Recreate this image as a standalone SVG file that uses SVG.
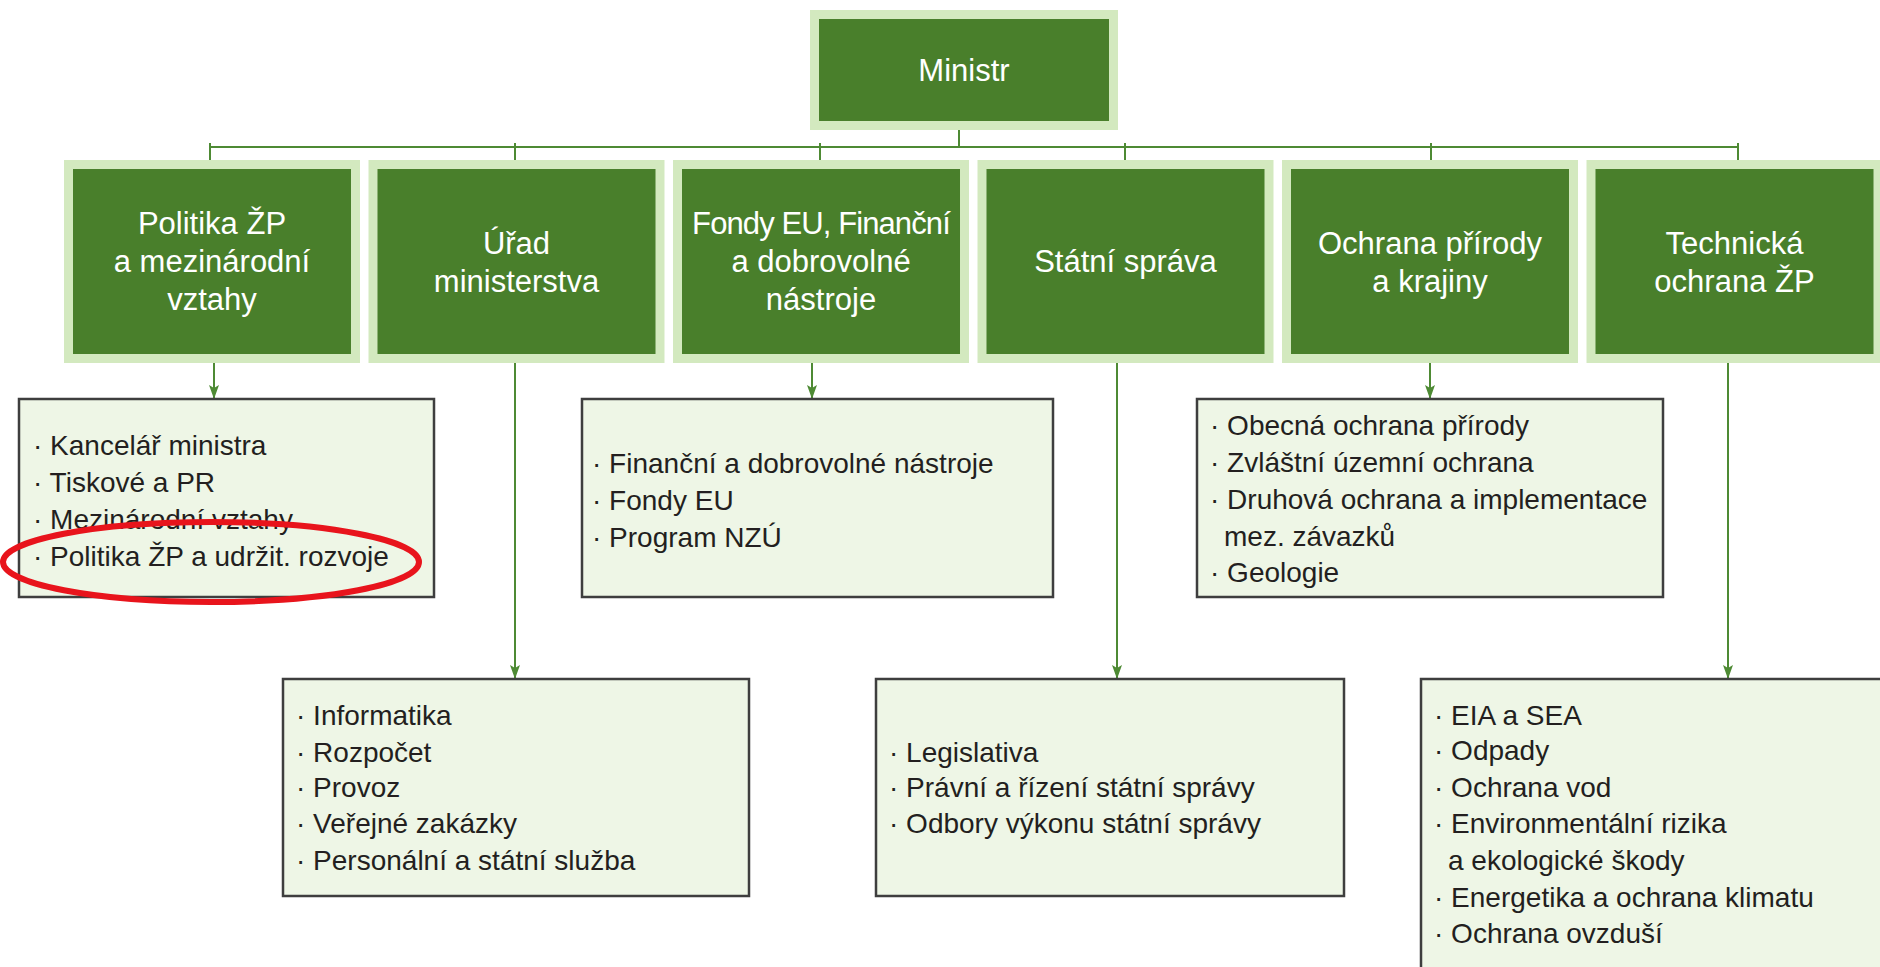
<svg xmlns="http://www.w3.org/2000/svg" width="1880" height="967" viewBox="0 0 1880 967">
<defs>
<style>
.outer{fill:#d3e9bf}
.inner{fill:#497f2b}
.hd{font-family:"Liberation Sans",Arial,sans-serif;font-size:31px;fill:#ffffff;text-anchor:middle}
.lb{fill:#eef6e6;stroke:#3e3e3e;stroke-width:2.5}
.it{font-family:"Liberation Sans",Arial,sans-serif;font-size:28px;fill:#231f20}
.cn{stroke:#4e8a34;stroke-width:2;fill:none}
</style>
<marker id="ah" markerUnits="userSpaceOnUse" markerWidth="14" markerHeight="10" refX="14" refY="5" orient="auto" viewBox="0 0 14 10">
<path d="M0,0 L14,5 L0,10 L3,5 Z" fill="#4e8a34"/>
</marker>
</defs>
<rect width="1880" height="967" fill="#ffffff"/>

<g id="connectors">
<line class="cn" x1="959" y1="130" x2="959" y2="147"/>
<line class="cn" x1="209" y1="147" x2="1739" y2="147"/>
<line class="cn" x1="210" y1="143" x2="210" y2="160"/>
<line class="cn" x1="515" y1="143" x2="515" y2="160"/>
<line class="cn" x1="820" y1="143" x2="820" y2="160"/>
<line class="cn" x1="1125" y1="143" x2="1125" y2="160"/>
<line class="cn" x1="1431" y1="143" x2="1431" y2="160"/>
<line class="cn" x1="1738" y1="143" x2="1738" y2="160"/>
<line class="cn" x1="214" y1="363" x2="214" y2="399" marker-end="url(#ah)"/>
<line class="cn" x1="515" y1="363" x2="515" y2="679" marker-end="url(#ah)"/>
<line class="cn" x1="812" y1="363" x2="812" y2="399" marker-end="url(#ah)"/>
<line class="cn" x1="1117" y1="363" x2="1117" y2="679" marker-end="url(#ah)"/>
<line class="cn" x1="1430" y1="363" x2="1430" y2="399" marker-end="url(#ah)"/>
<line class="cn" x1="1728" y1="363" x2="1728" y2="679" marker-end="url(#ah)"/>
</g>

<g id="ministr">
<rect class="outer" x="810" y="10" width="308" height="120"/>
<rect class="inner" x="819" y="19" width="290" height="102"/>
<text class="hd" x="964" y="81">Ministr</text>
</g>

<g id="politika">
<rect class="outer" x="64" y="160" width="296" height="203"/>
<rect class="inner" x="73" y="169" width="278" height="185"/>
<text class="hd" x="212" y="234">Politika ŽP</text>
<text class="hd" x="212" y="272">a mezinárodní</text>
<text class="hd" x="212" y="310">vztahy</text>
</g>

<g id="urad">
<rect class="outer" x="368.5" y="160" width="296" height="203"/>
<rect class="inner" x="377.5" y="169" width="278" height="185"/>
<text class="hd" x="516.5" y="254">Úřad</text>
<text class="hd" x="516.5" y="292">ministerstva</text>
</g>

<g id="fondy">
<rect class="outer" x="673" y="160" width="296" height="203"/>
<rect class="inner" x="682" y="169" width="278" height="185"/>
<text class="hd" x="821" y="234" letter-spacing="-0.9">Fondy EU, Finanční</text>
<text class="hd" x="821" y="272">a dobrovolné</text>
<text class="hd" x="821" y="310">nástroje</text>
</g>

<g id="statni">
<rect class="outer" x="977.5" y="160" width="296" height="203"/>
<rect class="inner" x="986.5" y="169" width="278" height="185"/>
<text class="hd" x="1125.5" y="272">Státní správa</text>
</g>

<g id="ochrana">
<rect class="outer" x="1282" y="160" width="296" height="203"/>
<rect class="inner" x="1291" y="169" width="278" height="185"/>
<text class="hd" x="1430" y="254">Ochrana přírody</text>
<text class="hd" x="1430" y="292">a krajiny</text>
</g>

<g id="technicka">
<rect class="outer" x="1586.5" y="160" width="296" height="203"/>
<rect class="inner" x="1595.5" y="169" width="278" height="185"/>
<text class="hd" x="1734.5" y="254">Technická</text>
<text class="hd" x="1734.5" y="292">ochrana ŽP</text>
</g>

<g id="politika-list">
<rect class="lb" x="19" y="399" width="415" height="198"/>
<text class="it" x="33" y="455">· Kancelář ministra</text>
<text class="it" x="33" y="492">· Tiskové a PR</text>
<text class="it" x="33" y="529">· Mezinárodní vztahy</text>
<text class="it" x="33" y="566">· Politika ŽP a udržit. rozvoje</text>
<ellipse cx="211" cy="562" rx="208" ry="40" fill="none" stroke="#e8141c" stroke-width="6"/>
</g>

<g id="fondy-list">
<rect class="lb" x="582" y="399" width="471" height="198"/>
<text class="it" x="592" y="473">· Finanční a dobrovolné nástroje</text>
<text class="it" x="592" y="510">· Fondy EU</text>
<text class="it" x="592" y="547">· Program NZÚ</text>
</g>

<g id="ochrana-list">
<rect class="lb" x="1197" y="399" width="466" height="198"/>
<text class="it" x="1210" y="435">· Obecná ochrana přírody</text>
<text class="it" x="1210" y="472">· Zvláštní územní ochrana</text>
<text class="it" x="1210" y="509">· Druhová ochrana a implementace</text>
<text class="it" x="1224" y="546">mez. závazků</text>
<text class="it" x="1210" y="582">· Geologie</text>
</g>

<g id="urad-list">
<rect class="lb" x="283" y="679" width="466" height="217"/>
<text class="it" x="296" y="725">· Informatika</text>
<text class="it" x="296" y="762">· Rozpočet</text>
<text class="it" x="296" y="797">· Provoz</text>
<text class="it" x="296" y="833">· Veřejné zakázky</text>
<text class="it" x="296" y="870">· Personální a státní služba</text>
</g>

<g id="statni-list">
<rect class="lb" x="876" y="679" width="468" height="217"/>
<text class="it" x="889" y="762">· Legislativa</text>
<text class="it" x="889" y="797">· Právní a řízení státní správy</text>
<text class="it" x="889" y="833">· Odbory výkonu státní správy</text>
</g>

<g id="technicka-list">
<rect class="lb" x="1421" y="679" width="480" height="310"/>
<text class="it" x="1434" y="725">· EIA a SEA</text>
<text class="it" x="1434" y="760">· Odpady</text>
<text class="it" x="1434" y="797">· Ochrana vod</text>
<text class="it" x="1434" y="833">· Environmentální rizika</text>
<text class="it" x="1448" y="870">a ekologické škody</text>
<text class="it" x="1434" y="907">· Energetika a ochrana klimatu</text>
<text class="it" x="1434" y="943">· Ochrana ovzduší</text>
</g>
</svg>
